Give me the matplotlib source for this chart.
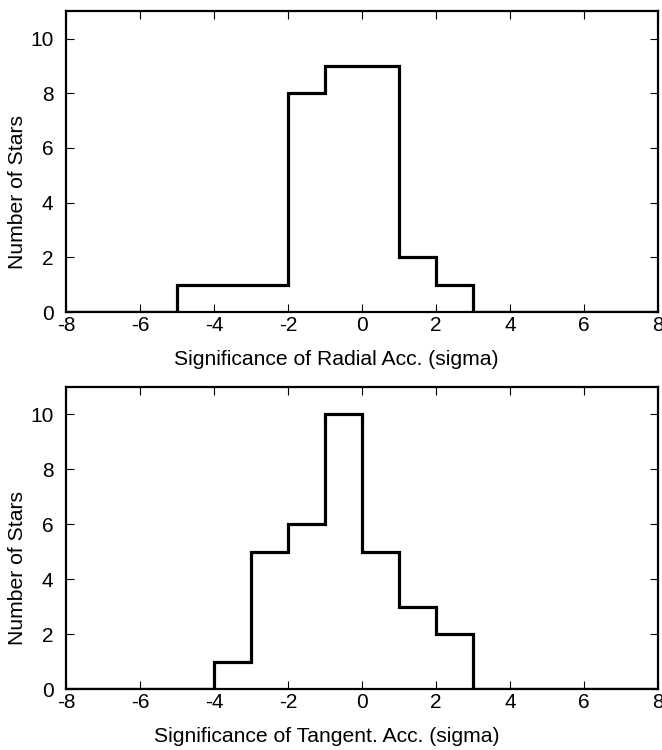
"""
Histograms of radial and tangential acceleration significance.
"""

import matplotlib.pyplot as plt
import numpy as np

plt.rcParams['font.family'] = ['Liberation Sans', 'DejaVu Sans']

# Bin edges (sigma) and star counts per bin.
bin_edges = np.arange(-8, 9, 1)
radial_counts = [0, 0, 0, 1, 1, 1, 8, 9, 9, 2, 1, 0, 0, 0, 0, 0]
tangent_counts = [0, 0, 0, 0, 1, 5, 6, 10, 5, 3, 2, 0, 0, 0, 0, 0]

xticks = [-8, -6, -4, -2, 0, 2, 4, 6, 8]
yticks = [0, 2, 4, 6, 8, 10]

# counts, x label, x position of x label (axes fraction)
panels = [
    (radial_counts, "Significance of Radial Acc. (sigma)", 0.456),
    (tangent_counts, "Significance of Tangent. Acc. (sigma)", 0.440),
]

fig = plt.figure(figsize=(6.62, 7.5), dpi=100)
ax_boxes = [
    [0.0997, 0.584, 0.894, 0.401],
    [0.0997, 0.0813, 0.894, 0.403],
]

for box, (counts, xlabel, xl_pos) in zip(ax_boxes, panels):
    ax = fig.add_axes(box)
    ax.stairs(counts, bin_edges, color="black", linewidth=2.3)
    ax.set_xlim(-8, 8)
    ax.set_ylim(0, 11)
    ax.set_xticks(xticks)
    ax.set_xticklabels([str(t) for t in xticks])
    ax.set_yticks(yticks)
    ax.tick_params(direction="in", top=True, right=True, length=6,
                   width=0.8, labelsize=15)
    ax.tick_params(axis="x", pad=3)
    ax.tick_params(axis="y", pad=9)
    for s in ax.spines.values():
        s.set_linewidth(1.6)
    ax.set_xlabel(xlabel, fontsize=15.2)
    ax.set_ylabel("Number of Stars", fontsize=15.2)
    ax.xaxis.set_label_coords(xl_pos, -0.127)
    ax.yaxis.set_label_coords(-0.066, 0.40)

fig.savefig("out.png", dpi=100)
